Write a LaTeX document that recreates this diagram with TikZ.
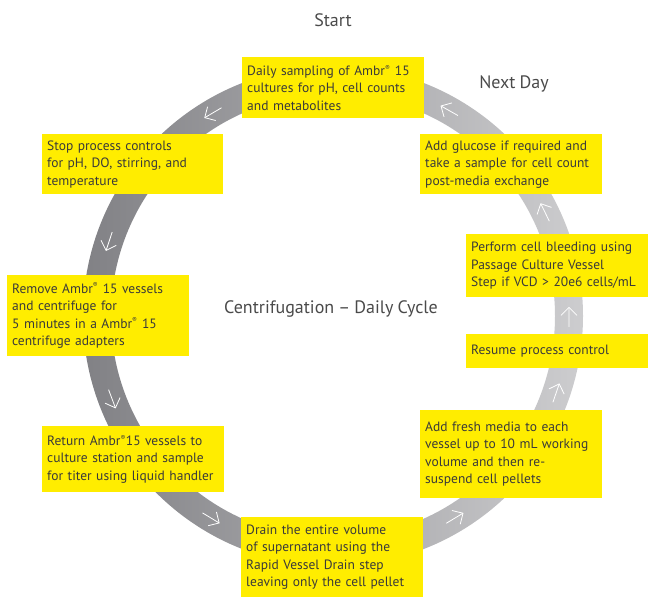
\documentclass[tikz,border=0pt]{standalone}
\usepackage{fontspec}
\setmainfont{PT Sans}[WordSpace=0.85]
\usetikzlibrary{arrows.meta,calc}
\definecolor{boxyellow}{HTML}{FFED00}
\definecolor{txtgray}{HTML}{3A3A3A}
\definecolor{titlegray}{HTML}{4A4A4A}
\definecolor{ringdark}{HTML}{818185}
\definecolor{ringlight}{HTML}{CDCDCF}
\newcommand{\reg}{\textsuperscript{\scriptsize ®}}
\hyphenpenalty=10000
\exhyphenpenalty=10000
\begin{document}
\begin{tikzpicture}[x=1pt,y=-1pt,
  stepbox/.style={fill=boxyellow, anchor=north west, inner xsep=5pt, inner ysep=0pt,
    font=\fontsize{13.5}{17.5}\selectfont, text=txtgray, align=left},
  title/.style={font=\fontsize{18}{20}\selectfont, text=titlegray, inner sep=0pt},
  ringarrow/.style={draw=white, line width=0.8pt, -{Straight Barb[length=8pt,width=16pt]}}]
\useasboundingbox (0,0) rectangle (648,598);
\coordinate (c) at (333,316);
% ring
\shade[left color=ringdark, right color=ringlight, even odd rule]
  (c) circle[radius=250pt] (c) circle[radius=222pt];
% arrows on the ring
\foreach \a in {120.6,161.6,200.6,238.9,301.1,341,359.8,26.1,60.5}{
  \draw[ringarrow] ($(c)+(\a:236pt)+(\a-90:10pt)$) -- ($(c)+(\a:236pt)+(\a+90:10pt)$);
}
% titles
\node[title] (start) at (333,20) {Start};
\node[title] (nextday) at (514,84) {Next Day};
\node[title] (centre) at (331,309) {Centrifugation – Daily Cycle};
% boxes
\node[stepbox, text width=172pt, minimum height=61pt] (b1) at (242,57)
  {Daily sampling of Ambr\reg{} 15\\cultures for pH, cell counts\\and metabolites};
\node[stepbox, text width=171pt, minimum height=60pt] (b2) at (42,134)
  {Stop process controls\\for pH, DO, stirring, and\\temperature};
\node[stepbox, text width=172pt, minimum height=81pt] (b3) at (7,275)
  {Remove Ambr\reg{} 15 vessels\\and centrifuge for\\5 minutes in a Ambr\reg{} 15\\centrifuge adapters};
\node[stepbox, text width=172pt, minimum height=66pt] (b4) at (42,426)
  {Return Ambr\reg15 vessels to\\culture station and sample\\for titer using liquid handler};
\node[stepbox, text width=172pt, minimum height=80pt] (b5) at (241,517)
  {Drain the entire volume\\of supernatant using the\\Rapid Vessel Drain step\\leaving only the cell pellet};
\node[stepbox, text width=172pt, minimum height=88pt] (b6) at (420,410)
  {Add fresh media to each\\vessel up to 10 mL working\\volume and then re-\\suspend cell pellets};
\node[stepbox, text width=172pt, minimum height=34pt] (b7) at (466,334)
  {Resume process control};
\node[stepbox, text width=172pt, minimum height=63pt] (b8) at (466,234)
  {Perform cell bleeding using\\Passage Culture Vessel\\Step if VCD > 20e6 cells/mL};
\node[stepbox, text width=172pt, minimum height=60pt] (b9) at (420,134)
  {Add glucose if required and\\take a sample for cell count\\post-media exchange};
\end{tikzpicture}
\end{document}
